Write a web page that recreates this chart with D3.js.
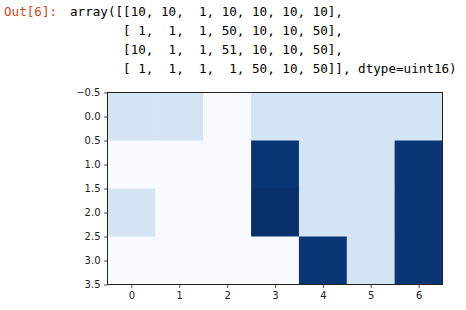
<!DOCTYPE html>
<html>
<head>
<meta charset="utf-8">
<script src="https://cdn.jsdelivr.net/npm/d3@7"></script>
<style>
  body { margin: 0; background: #fff; }
  svg { display: block; }
</style>
</head>
<body>
<div id="chart"></div>
<script>
// array as printed by the notebook
const grid = [
  [10, 10, 1, 10, 10, 10, 10],
  [1, 1, 1, 50, 10, 10, 50],
  [10, 1, 1, 51, 10, 10, 50],
  [1, 1, 1, 1, 50, 10, 50]
];
const colTicks = [0, 1, 2, 3, 4, 5, 6];
const rowTicks = [-0.5, 0, 0.5, 1, 1.5, 2, 2.5, 3, 3.5];
const outLines = [
  "array([[10, 10,  1, 10, 10, 10, 10],",
  "       [ 1,  1,  1, 50, 10, 10, 50],",
  "       [10,  1,  1, 51, 10, 10, 50],",
  "       [ 1,  1,  1,  1, 50, 10, 50]], dtype=uint16)"
];
// matplotlib "Blues" stops
const blues = ["#f7fbff", "#deebf7", "#c6dbef", "#9ecae1", "#6baed6",
  "#4292c6", "#2171b5", "#08519c", "#08306b"];

const width = 466, height = 310;
const svg = d3.select("#chart").append("svg")
  .attr("width", width).attr("height", height);

const mono = "'DejaVu Sans Mono', 'Liberation Mono', monospace";

svg.append("text")
  .attr("x", 4).attr("y", 16)
  .attr("font-family", mono).attr("font-size", 12.6)
  .attr("fill", "#d84315")
  .text("Out[6]:");

svg.append("g").selectAll("text")
  .data(outLines)
  .enter().append("text")
  .attr("x", 70)
  .attr("y", (d, i) => 16 + i * 19)
  .attr("font-family", mono).attr("font-size", 12.6)
  .attr("fill", "#000")
  .attr("xml:space", "preserve")
  .style("white-space", "pre")
  .text(d => d);

const plot = { left: 107.5, top: 92.5, right: 442.5, bottom: 284.5 };

const x = d3.scaleLinear().domain([-0.5, 6.5]).range([plot.left, plot.right]);
const y = d3.scaleLinear().domain([-0.5, 3.5]).range([plot.top, plot.bottom]);

const vmin = d3.min(grid.flat()), vmax = d3.max(grid.flat());
const color = d3.scaleLinear()
  .domain(blues.map((c, i) => vmin + (vmax - vmin) * i / (blues.length - 1)))
  .range(blues)
  .interpolate(d3.interpolateRgb);

const cells = grid.flatMap((row, r) => row.map((v, c) => ({ r, c, v })));

svg.append("g").selectAll("rect")
  .data(cells)
  .enter().append("rect")
  .attr("x", d => x(d.c - 0.5))
  .attr("y", d => y(d.r - 0.5))
  .attr("width", d => x(d.c + 0.5) - x(d.c - 0.5) + 0.5)
  .attr("height", d => y(d.r + 0.5) - y(d.r - 0.5) + 0.5)
  .attr("fill", d => color(d.v));

const fmt = d => d3.format(".1f")(d).replace("-", "\u2212");

const xAxis = svg.append("g")
  .attr("transform", `translate(0,${plot.bottom})`)
  .call(d3.axisBottom(x).tickValues(colTicks).tickSize(3.5).tickPadding(3.5).tickFormat(d3.format("d")));
const yAxis = svg.append("g")
  .attr("transform", `translate(${plot.left},0)`)
  .call(d3.axisLeft(y).tickValues(rowTicks).tickSize(3.5).tickPadding(3.5).tickFormat(fmt));

[xAxis, yAxis].forEach(g => {
  g.select(".domain").remove();
  g.selectAll("line").attr("stroke", "#222").attr("stroke-width", 0.8);
  g.selectAll("text")
    .attr("font-family", "'DejaVu Sans', sans-serif")
    .attr("font-size", 10)
    .attr("fill", "#222");
});

svg.append("rect")
  .attr("x", plot.left).attr("y", plot.top)
  .attr("width", plot.right - plot.left)
  .attr("height", plot.bottom - plot.top)
  .attr("fill", "none")
  .attr("stroke", "#222")
  .attr("stroke-width", 1);
</script>
</body>
</html>
